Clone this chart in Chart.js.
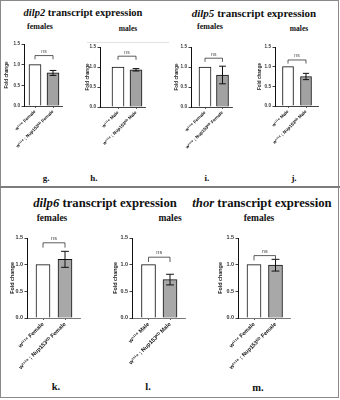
<!DOCTYPE html>
<html>
<head>
<meta charset="utf-8">
<script src="https://cdn.jsdelivr.net/npm/chart.js@4.4.1/dist/chart.umd.min.js"></script>
<style>
  body { margin: 0; background: #fff; }
  #fig { position: relative; width: 340px; height: 400px; overflow: hidden; font-family: "Liberation Serif", "Times New Roman", serif; }
  #frame { position: absolute; left: 0; top: 0; width: 337px; height: 396px; border: 1.5px solid #8a8a8a; }
  #sep { position: absolute; left: 0; top: 186px; width: 340px; height: 2px; background: #7d7d7d; }
  #faint { position: absolute; left: 87px; top: 42px; width: 82px; height: 1px; background: #e2e2e2; }
  .t { position: absolute; white-space: nowrap; font-weight: bold; color: #111; transform: translate(-50%, -50%); line-height: 1; }
  canvas { position: absolute; }
</style>
</head>
<body>
<div id="fig">
  <div id="frame"></div>
  <div id="sep"></div>
  <div id="faint"></div>
</div>
<script>
// category labels
const femaleCats = ['w¹¹¹⁸ Female', 'w¹¹¹⁸ ; Nup153ᴷᴰ Female'];
const maleCats = ['w¹¹¹⁸ Male', 'w¹¹¹⁸ ; Nup153ᴷᴰ Male'];
const yTicks = [0, 0.5, 1.0, 1.5];

// fold change (mean) and error per bar
const dilp2Female = [1.0, 0.80];
const dilp2FemaleErr = [0, 0.06];
const dilp2Male = [1.0, 0.93];
const dilp2MaleErr = [0, 0.03];
const dilp5Female = [1.0, 0.80];
const dilp5FemaleErr = [0, 0.22];
const dilp5Male = [1.0, 0.75];
const dilp5MaleErr = [0, 0.08];
const dilp6Female = [1.0, 1.10];
const dilp6FemaleErr = [0, 0.15];
const dilp6Male = [1.0, 0.72];
const dilp6MaleErr = [0, 0.10];
const thorFemale = [1.0, 0.99];
const thorFemaleErr = [0, 0.11];
// height of the "ns" bracket in each panel (fold change units)
const nsLevels = [1.22, 1.27, 1.22, 1.17, 1.41, 1.14, 1.17];

// layout per panel (pixels on the page)
const panels = [
  { cats: femaleCats, vals: dilp2Female, errs: dilp2FemaleErr, titleX: 7, axisX: 24, c1: 35, c2: 53, end: 62, top: 44, y0: 106, bar: 12, row: 0 },
  { cats: maleCats, vals: dilp2Male, errs: dilp2MaleErr, titleX: 88, axisX: 100, c1: 118, c2: 136, end: 145, top: 47, y0: 107, bar: 12, row: 0 },
  { cats: femaleCats, vals: dilp5Female, errs: dilp5FemaleErr, titleX: 177, axisX: 191, c1: 205, c2: 222.5, end: 232, top: 47, y0: 107, bar: 12, row: 0 },
  { cats: maleCats, vals: dilp5Male, errs: dilp5MaleErr, titleX: 260, axisX: 275, c1: 288, c2: 306, end: 318, top: 47, y0: 106, bar: 11, row: 0 },
  { cats: femaleCats, vals: dilp6Female, errs: dilp6FemaleErr, titleX: 12, axisX: 27, c1: 43, c2: 65, end: 80, top: 238, y0: 318, bar: 14, row: 1 },
  { cats: maleCats, vals: dilp6Male, errs: dilp6MaleErr, titleX: 115, axisX: 132, c1: 148.5, c2: 170, end: 185, top: 238, y0: 318, bar: 14, row: 1 },
  { cats: femaleCats, vals: thorFemale, errs: thorFemaleErr, titleX: 220, axisX: 238, c1: 254, c2: 275.5, end: 290, top: 238, y0: 318, bar: 14, row: 1 },
];

const texts = [
  ['<i>dilp2</i> transcript expression', 83, 13, 10.5],
  ['<i>dilp5</i> transcript expression', 254, 13, 11],
  ['<i>dilp6</i> transcript expression', 105, 203, 12.7],
  ['<i>thor</i> transcript expression', 262, 203, 12.7],
  ['females', 40, 27, 8], ['males', 128, 28.5, 7.5], ['females', 210, 27, 8], ['males', 299, 28.5, 7.5],
  ['females', 52, 219, 9.5], ['males', 170, 219, 9.5], ['females', 259, 219, 9.5],
  ['g.', 46, 178, 9], ['h.', 94, 178, 9], ['i.', 207, 178, 9], ['j.', 294, 178, 9],
  ['k.', 56, 387, 10.5], ['l.', 148, 387, 10.5], ['m.', 258, 388, 10.5],
];

const fig = document.getElementById('fig');
texts.forEach(([html, x, y, size]) => {
  const d = document.createElement('div');
  d.className = 't';
  d.innerHTML = html;
  d.style.left = x + 'px';
  d.style.top = y + 'px';
  d.style.fontSize = size + 'px';
  fig.appendChild(d);
});

function annotPlugin(p, ns) {
  return {
    id: 'annot',
    afterDatasetsDraw(chart) {
      const { ctx, scales: { x, y } } = chart;
      const cap = p.bar * 0.28;
      ctx.save();
      ctx.strokeStyle = '#111';
      ctx.lineWidth = 1;
      p.vals.forEach((v, i) => {
        const e = p.errs[i];
        if (!e) return;
        const px = x.getPixelForValue(i + 1);
        const t = y.getPixelForValue(v + e), b = y.getPixelForValue(v - e);
        ctx.beginPath();
        ctx.moveTo(px, t); ctx.lineTo(px, b);
        ctx.moveTo(px - cap, t); ctx.lineTo(px + cap, t);
        ctx.moveTo(px - cap, b); ctx.lineTo(px + cap, b);
        ctx.stroke();
      });
      const x1 = x.getPixelForValue(1), x2 = x.getPixelForValue(2);
      const yb = y.getPixelForValue(ns), yl = y.getPixelForValue(ns - 0.09);
      ctx.strokeStyle = '#333';
      ctx.lineWidth = 0.8;
      ctx.beginPath();
      ctx.moveTo(x1, yl); ctx.lineTo(x1, yb); ctx.lineTo(x2, yb); ctx.lineTo(x2, yl);
      ctx.stroke();
      ctx.fillStyle = '#444';
      ctx.font = (p.row ? 5.5 : 5) + 'px "Liberation Sans", Arial, sans-serif';
      ctx.textAlign = 'center';
      ctx.textBaseline = 'bottom';
      ctx.fillText('ns', (x1 + x2) / 2, yb - 1.5);
      ctx.restore();
    }
  };
}

panels.forEach((p, idx) => {
  const cy = p.row ? 226 : 36;
  const ch = p.row ? 152 : 134;
  const cx = Math.round(p.titleX - 3.7);
  const cw = Math.round(p.end - cx + 6);
  const c = document.createElement('canvas');
  c.width = cw; c.height = ch;
  c.style.left = cx + 'px'; c.style.top = cy + 'px';
  c.style.width = cw + 'px'; c.style.height = ch + 'px';
  fig.appendChild(c);

  const u = p.c2 - p.c1;
  const xmin = 1 - (p.c1 - p.axisX) / u;
  const xmax = 2 + (p.end - p.c2) / u;
  const tickFont = p.row ? 5.4 : 4.6;
  const catFont = p.row ? 5.6 : 4.5;
  const yAxisW = p.axisX - cx;
  const xAxisH = ch - (p.y0 - cy);

  new Chart(c, {
    type: 'bar',
    data: {
      datasets: [{
        data: p.vals.map((v, i) => ({ x: i + 1, y: v })),
        backgroundColor: ['#ffffff', p.row ? '#a8a8a8' : '#a2a2a2'],
        borderColor: '#111',
        borderWidth: 1,
        borderSkipped: 'bottom',
        barThickness: p.bar,
      }]
    },
    options: {
      responsive: false,
      animation: false,
      events: [],
      layout: { padding: { top: p.top - cy, right: cx + cw - p.end, left: 0, bottom: 0 } },
      plugins: { legend: { display: false }, tooltip: { enabled: false } },
      scales: {
        x: {
          type: 'linear',
          offset: false,
          bounds: 'data',
          min: xmin,
          max: xmax,
          afterBuildTicks: (s) => { s.ticks = p.cats.map((_, i) => ({ value: i + 1 })); },
          afterFit: (s) => { s.height = xAxisH; s.paddingLeft = 0; s.paddingRight = 0; },
          border: { display: true, color: p.row ? '#777' : '#444', width: 1 },
          grid: { display: true, offset: false, drawOnChartArea: false, drawTicks: true, tickLength: 2, color: '#333', lineWidth: 0.8 },
          ticks: {
            minRotation: 45, maxRotation: 45, autoSkip: false, padding: 1,
            color: '#111',
            font: { size: catFont, weight: 'bold', family: '"Liberation Sans", Arial, sans-serif' },
            callback: (v) => p.cats[Math.round(v) - 1] || '',
          },
        },
        y: {
          min: 0,
          max: 1.5,
          afterBuildTicks: (s) => { s.ticks = yTicks.map((v) => ({ value: v })); },
          afterFit: (s) => { s.width = yAxisW; s.paddingTop = 0; s.paddingBottom = 0; },
          border: { display: true, color: '#111', width: 1 },
          grid: { display: true, drawOnChartArea: false, drawTicks: true, tickLength: 2.5, color: '#111', lineWidth: 0.8 },
          ticks: {
            padding: 1.5,
            color: '#333',
            font: { size: tickFont, weight: 'bold', family: '"Liberation Sans", Arial, sans-serif' },
            callback: (v) => Number(v).toFixed(1),
          },
          title: {
            display: true,
            text: 'Fold change',
            color: '#222',
            padding: { top: 1, bottom: 0 },
            font: { size: p.row ? 5.4 : 4.6, weight: 'bold', family: '"Liberation Sans", Arial, sans-serif' },
          },
        },
      },
    },
    plugins: [annotPlugin(p, nsLevels[idx])],
  });
});
</script>
</body>
</html>
